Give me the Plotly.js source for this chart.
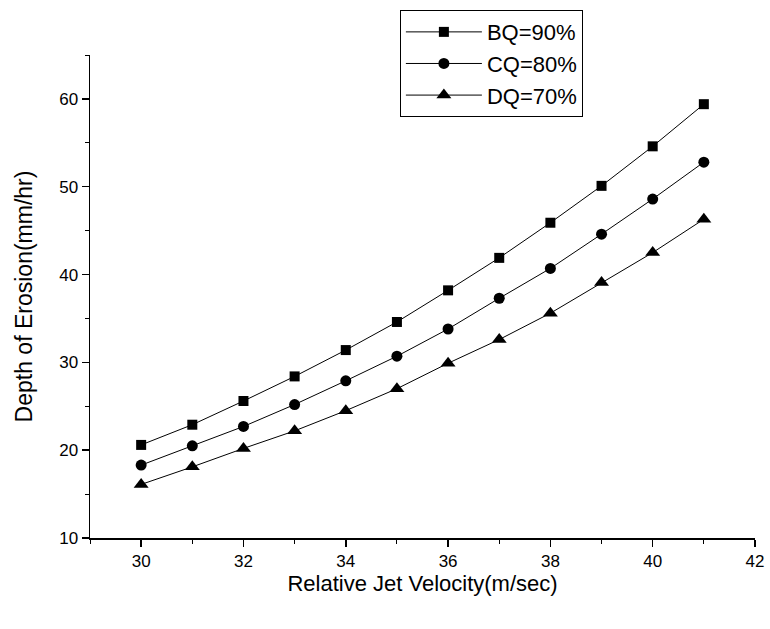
<!DOCTYPE html>
<html><head><meta charset="utf-8">
<script src="https://cdn.plot.ly/plotly-3.0.1.min.js"></script>
<style>html,body{margin:0;padding:0;background:#fff}</style>
</head><body>
<div id="chart" style="width:770px;height:629px"></div>
<script>
const velocity = [30,31,32,33,34,35,36,37,38,39,40,41];
const bq90 = [20.6,22.9,25.6,28.4,31.4,34.6,38.2,41.9,45.9,50.1,54.6,59.4];
const cq80 = [18.3,20.5,22.7,25.2,27.9,30.7,33.8,37.3,40.7,44.6,48.6,52.8];
const dq70 = [16.1,18.1,20.2,22.2,24.5,27.0,29.9,32.6,35.6,39.1,42.5,46.3];
const seriesNames = ['BQ=90%','CQ=80%','DQ=70%'];

const mk = (y, name, symbol, size) => ({
  x: velocity, y: y, name: name, type: 'scatter', mode: 'lines+markers',
  line: {color: '#000', width: 1},
  marker: {symbol: symbol, size: size, color: '#000'}
});
const data = [
  mk(bq90, seriesNames[0], 'square', 10),
  mk(cq80, seriesNames[1], 'circle', 11),
  mk(dq70, seriesNames[2], 'triangle-up', 13)
];
const font = {family: 'Arial, "Liberation Sans", sans-serif', color: '#000'};
const layout = {
  width: 770, height: 629,
  margin: {l: 90, r: 15, t: 55, b: 91, autoexpand: false},
  paper_bgcolor: '#fff', plot_bgcolor: '#fff',
  font: font,
  showlegend: true,
  legend: {x: 0.466, y: 1.093, xanchor: 'left', yanchor: 'top',
    bordercolor: '#000', borderwidth: 1, bgcolor: '#fff',
    font: {family: font.family, size: 22, color: '#000'},
    itemwidth: 76, tracegroupgap: 0},
  xaxis: {range: [29, 42], dtick: 2, tick0: 30, showgrid: false, zeroline: false,
    showline: true, linecolor: '#000', linewidth: 1.5, automargin: false,
    ticks: 'outside', ticklen: 7, tickwidth: 1.5, tickcolor: '#000',
    minor: {dtick: 1, tick0: 29, ticks: 'outside', ticklen: 4, tickwidth: 1, tickcolor: '#000', showgrid: false},
    tickfont: {family: font.family, size: 17, color: '#000'},
    title: {text: 'Relative Jet Velocity(m/sec)', font: {family: font.family, size: 22, color: '#000'}, standoff: 2}},
  yaxis: {range: [10, 65], dtick: 10, tick0: 10, showgrid: false, zeroline: false,
    showline: true, linecolor: '#000', linewidth: 1.5, automargin: false,
    ticks: 'outside', ticklen: 7, tickwidth: 1.5, tickcolor: '#000',
    minor: {dtick: 5, ticks: 'outside', ticklen: 4, tickwidth: 1, tickcolor: '#000', showgrid: false},
    tickfont: {family: font.family, size: 17, color: '#000'},
    title: {text: 'Depth of Erosion(mm/hr)', font: {family: font.family, size: 23, color: '#000'}, standoff: 20}}
};
Plotly.newPlot('chart', data, layout, {displayModeBar: false, staticPlot: true});
</script>
</body></html>
